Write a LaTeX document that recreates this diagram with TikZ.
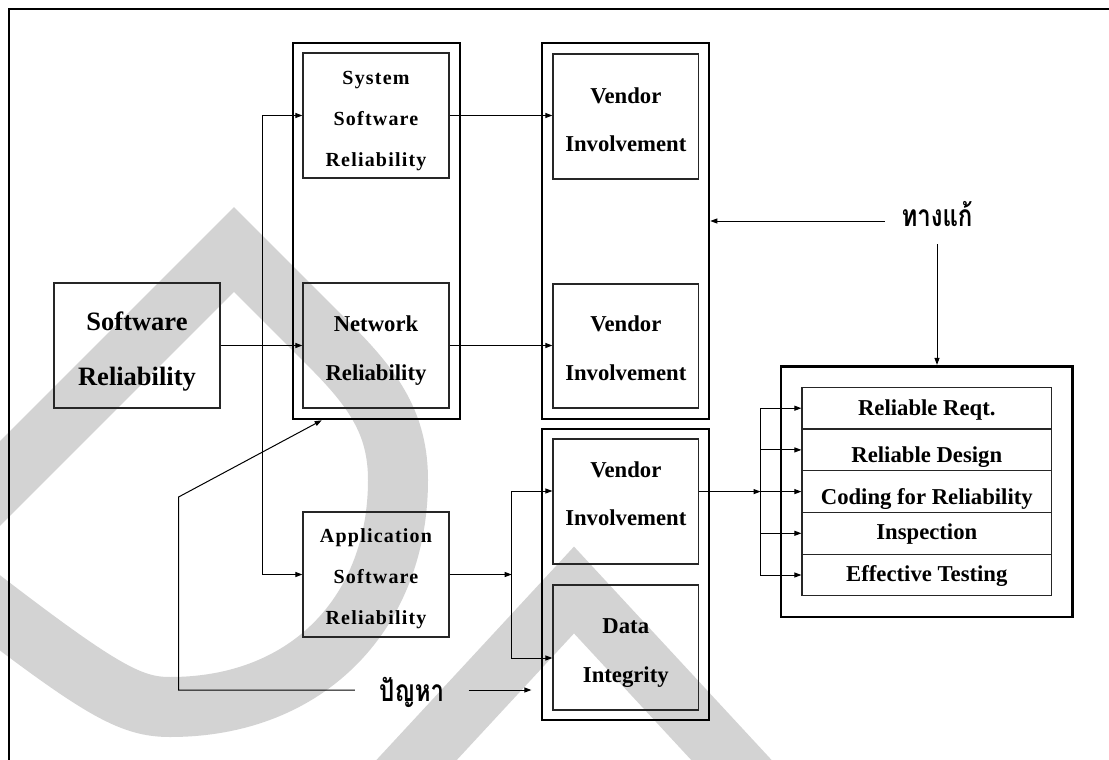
\documentclass[tikz,border=0pt]{standalone}
\usepackage{fontspec}
\setmainfont{Liberation Serif}
\newfontfamily\spacedfont{Liberation Serif}[LetterSpace=6]
\newfontfamily\thaifont[Script=Thai,FakeStretch=0.8]{Loma}
\usetikzlibrary{arrows.meta}
\definecolor{wm}{RGB}{211,211,211}
\begin{document}
\begin{tikzpicture}[x=1pt,y=-1pt,
  thinbox/.style={draw=black!85, line width=1.2pt, inner sep=0pt},
  thickbox/.style={draw=black, line width=2.6pt, inner sep=0pt},
  arr/.style={line width=1pt, -{Triangle[length=7pt,width=5pt]}},
  lbl/.style={font=\bfseries\fontsize{22.7}{48.5}\selectfont, align=center, inner sep=0pt},
  biglbl/.style={font=\bfseries\fontsize{26.5}{55.5}\selectfont, align=center, inner sep=0pt},
  splbl/.style={font=\spacedfont\bfseries\fontsize{20}{41}\selectfont, align=center, inner sep=0pt},
  rowlbl/.style={font=\bfseries\fontsize{22.7}{26}\selectfont, inner sep=0pt, anchor=base},
  thai/.style={font=\thaifont\bfseries\fontsize{30}{34}\selectfont, anchor=base, inner sep=0pt}
]
\useasboundingbox (0,0) rectangle (1109,760);
\clip (0,0) rectangle (1109,760);

% watermark
\draw[wm, line width=60pt, line join=miter]
  (-30,513.5) -- (234,249.5) -- (330,345.5)
  .. controls (375,390.5) and (398,425) .. (398,480)
  .. controls (398,610) and (310,707) .. (170,707)
  .. controls (130,707) and (100,690) .. (-30,590);
\draw[wm, line width=59pt, line join=miter] (374,806) -- (574,590) -- (774,806);

% frame
\draw[line width=2pt] (9,800) -- (9,9.5) -- (1130,9.5);

% column boxes
\node[thickbox, minimum width=167pt, minimum height=376pt] (colA) at (376.5,231) {};
\node[thickbox, minimum width=167pt, minimum height=376pt] (colB) at (625.5,231) {};
\node[thickbox, minimum width=167pt, minimum height=291pt] (colC) at (625.5,574.5) {};
\node[thickbox, minimum width=291.6pt, minimum height=250.6pt] (colD) at (926.8,491.5) {};

% inner boxes
\node[thinbox, minimum width=166pt, minimum height=125pt] (sr) at (137,345.5) {};
\node[thinbox, minimum width=146pt, minimum height=125pt] (sys) at (376,115.5) {};
\node[thinbox, minimum width=146pt, minimum height=125pt] (net) at (376,345.5) {};
\node[thinbox, minimum width=146pt, minimum height=125pt] (app) at (376,574.5) {};
\node[thinbox, minimum width=145.6pt, minimum height=125pt] (v1) at (625.8,116.5) {};
\node[thinbox, minimum width=145.6pt, minimum height=124pt] (v2) at (625.8,346) {};
\node[thinbox, minimum width=145.6pt, minimum height=125pt] (v3) at (625.8,501.5) {};
\node[thinbox, minimum width=145.6pt, minimum height=125pt] (di) at (625.8,647.5) {};

% list rows
\node[thinbox, minimum width=249.6pt, minimum height=41.7pt] (r1) at (926.8,408.2) {};
\node[thinbox, minimum width=249.6pt, minimum height=41.7pt] (r2) at (926.8,449.9) {};
\node[thinbox, minimum width=249.6pt, minimum height=41.7pt] (r3) at (926.8,491.6) {};
\node[thinbox, minimum width=249.6pt, minimum height=41.7pt] (r4) at (926.8,533.3) {};
\node[thinbox, minimum width=249.6pt, minimum height=41.7pt] (r5) at (926.8,575.0) {};

% labels
\node[biglbl] (srt) at (137,351.5) {Software\\Reliability};
\node[splbl] (syst) at (376,121.1) {System\\Software\\Reliability};
\node[lbl] (nett) at (376,350.5) {Network\\Reliability};
\node[splbl] (appt) at (376,578.9) {Application\\Software\\Reliability};
\node[lbl] (v1t) at (625.8,119.8) {Vendor\\Involvement};
\node[lbl] (v2t) at (625.8,348.3) {Vendor\\Involvement};
\node[lbl] (v3t) at (625.8,493.7) {Vendor\\Involvement};
\node[lbl] (dit) at (625.8,653.2) {Data\\Integrity};
\node[rowlbl] (r1t) at (926.8,415) {Reliable Reqt.};
\node[rowlbl] (r2t) at (926.8,462.7) {Reliable Design};
\node[rowlbl] (r3t) at (926.8,504) {Coding for Reliability};
\node[rowlbl] (r4t) at (926.8,539) {Inspection};
\node[rowlbl] (r5t) at (926.8,581) {Effective Testing};

% thai labels
\node[thai, minimum width=104pt] (fix) at (937,226.7) {ทางแก้};
\node[thai, minimum width=113.3pt] (prob) at (411.7,701.7) {ปัญหา};

% connectors
\coordinate (jA) at (262,345.5);
\draw[arr] (sr.east) -- (net.west);
\draw[arr] (jA) |- (sys.west);
\draw[arr] (jA) |- (app.west);
\draw[arr] (sys.east) -- (sys.east -| v1.west);
\draw[arr] (net.east) -- (net.east -| v2.west);

\coordinate (jB) at (511.7,574.5);
\draw[arr] (app.east) -- (jB);
\draw[arr] (jB) |- ([yshift=10.5pt]v3.west);
\draw[arr] (jB) |- ([yshift=-10.5pt]di.west);

\coordinate (jC) at (760.6,491.6);
\draw[arr] (v3.east |- jC) -- (jC);
\draw[arr] (jC) |- (r1.west);
\draw[arr] (jC) |- (r2.west);
\draw[arr] (jC) -- (r3.west);
\draw[arr] (jC) |- (r4.west);
\draw[arr] (jC) |- (r5.west);

\coordinate (fixL) at ([yshift=5.7pt]fix.base west);
\coordinate (fixB) at ([yshift=-17.6pt]fix.base);
\draw[arr] (fixL) -- (fixL -| colB.east);
\draw[arr] (fixB) -- (fixB |- colD.north);

\coordinate (probL) at ([yshift=11.7pt]prob.base west);
\coordinate (probR) at ([yshift=11.7pt]prob.base east);
\coordinate (bend) at (178.6,497);
\draw[arr] (probL) -| (bend) -- ([xshift=30pt]colA.south west);
\draw[arr, shorten >=9.3pt] (probR) -- (probR -| colC.west);
\end{tikzpicture}
\end{document}
